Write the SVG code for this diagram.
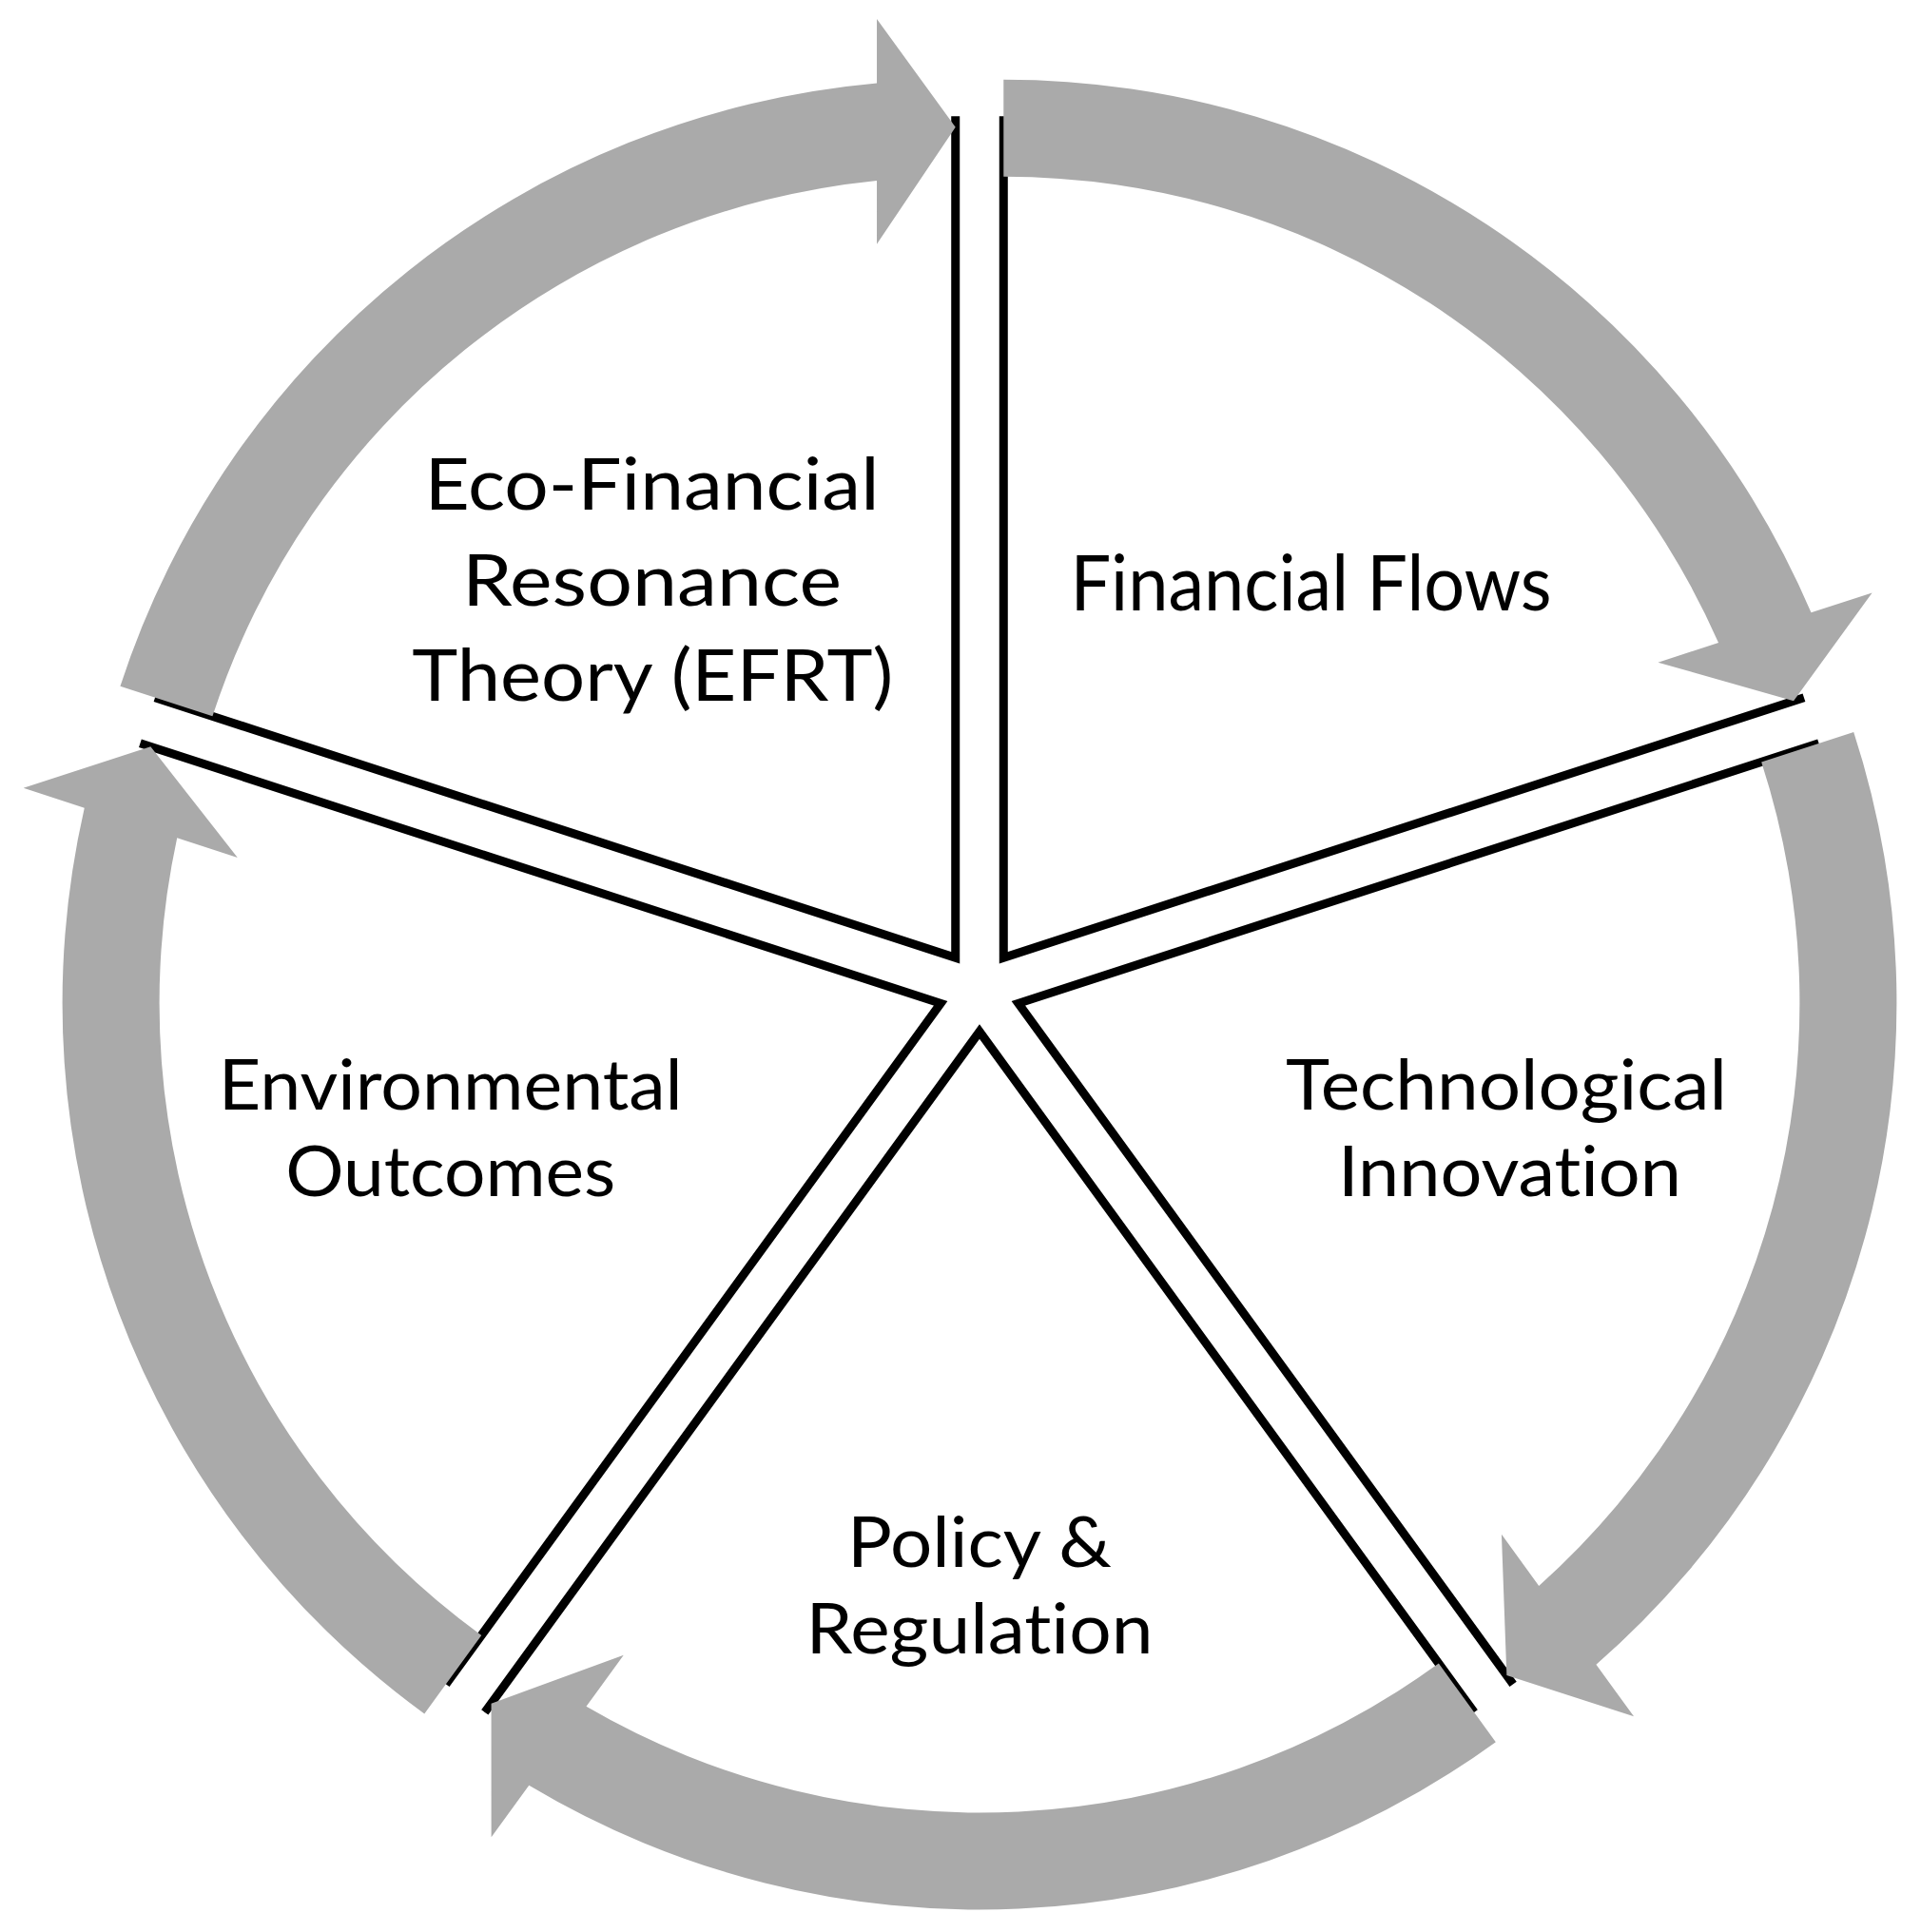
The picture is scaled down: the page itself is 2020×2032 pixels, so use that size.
<svg xmlns="http://www.w3.org/2000/svg" width="2020" height="2032" viewBox="0 0 2020 2032">
  <style>
    .wedge { fill: none; stroke: #000000; stroke-width: 9; stroke-linejoin: miter; stroke-miterlimit: 10; stroke-linecap: butt; }
    .arrow { fill: #AAAAAA; stroke: none; }
    .lbl { font-family: Lato, "Open Sans", "Liberation Sans", sans-serif; fill: #000000; text-anchor: middle; font-variant-ligatures: none; font-feature-settings: "liga" 0, "clig" 0, "dlig" 0; }
    .big { font-size: 76px; }
    .mid { font-size: 73px; }
    .ff { font-size: 82px; }
  </style>
  <defs>
    <path id="wedgeShape" d="M -866.97,-308.26 L -25.27,-34.79 L -25.27,-919.79"/>
    <path id="arrowShape" d="M -903.58,-320.17 A 923.5 923.5 0 0 1 -107.97,-954.58 L -107.97,-1021.99 L -25.27,-908.29 L -107.97,-785.29 L -107.97,-852.12 A 821.5 821.5 0 0 0 -806.56,-288.65 Z"/>
  </defs>
  <rect x="0" y="0" width="2020" height="2032" fill="#FFFFFF"/>

  <g id="node-efrt">
    <use href="#wedgeShape" class="wedge" transform="translate(1030,1042)"/>
  </g>
  <g id="node-financial-flows">
    <use href="#wedgeShape" class="wedge" transform="translate(1030,1042) rotate(72)"/>
  </g>
  <g id="node-technological-innovation">
    <use href="#wedgeShape" class="wedge" transform="translate(1030,1042) rotate(144)"/>
  </g>
  <g id="node-policy-regulation">
    <use href="#wedgeShape" class="wedge" transform="translate(1030,1042) rotate(216)"/>
  </g>
  <g id="node-environmental-outcomes">
    <use href="#wedgeShape" class="wedge" transform="translate(1030,1042) rotate(288)"/>
  </g>

  <g id="connectors">
    <use href="#arrowShape" class="arrow" transform="translate(1030,1042)"/>
    <use href="#arrowShape" class="arrow" transform="translate(1030,1042) rotate(72)"/>
    <use href="#arrowShape" class="arrow" transform="translate(1030,1042) rotate(144)"/>
    <use href="#arrowShape" class="arrow" transform="translate(1030,1042) rotate(216)"/>
    <use href="#arrowShape" class="arrow" transform="translate(1030,1042) rotate(288)"/>
  </g>

  <g id="labels">
    <text class="lbl big" x="685.5" y="536" textLength="478" lengthAdjust="spacingAndGlyphs">Eco-Financial</text>
    <text class="lbl big" x="685.5" y="636.7" textLength="399" lengthAdjust="spacingAndGlyphs">Resonance</text>
    <text class="lbl big" x="686.3" y="736.7" textLength="506" lengthAdjust="spacingAndGlyphs">Theory (EFRT)</text>
    <text class="lbl ff" x="1378.5" y="642" textLength="506" lengthAdjust="spacingAndGlyphs">Financial Flows</text>
    <text class="lbl mid" x="1584" y="1166.7" textLength="464" lengthAdjust="spacingAndGlyphs">Technological</text>
    <text class="lbl mid" x="1587.5" y="1258.3" textLength="361" lengthAdjust="spacingAndGlyphs">Innovation</text>
    <text class="lbl mid" x="1030" y="1648" textLength="278" lengthAdjust="spacingAndGlyphs">Policy &amp;</text>
    <text class="lbl mid" x="1030" y="1739" textLength="365" lengthAdjust="spacingAndGlyphs">Regulation</text>
    <text class="lbl mid" x="473.8" y="1166.7" textLength="488" lengthAdjust="spacingAndGlyphs">Environmental</text>
    <text class="lbl mid" x="473.7" y="1258.3" textLength="347" lengthAdjust="spacingAndGlyphs">Outcomes</text>
  </g>
</svg>
